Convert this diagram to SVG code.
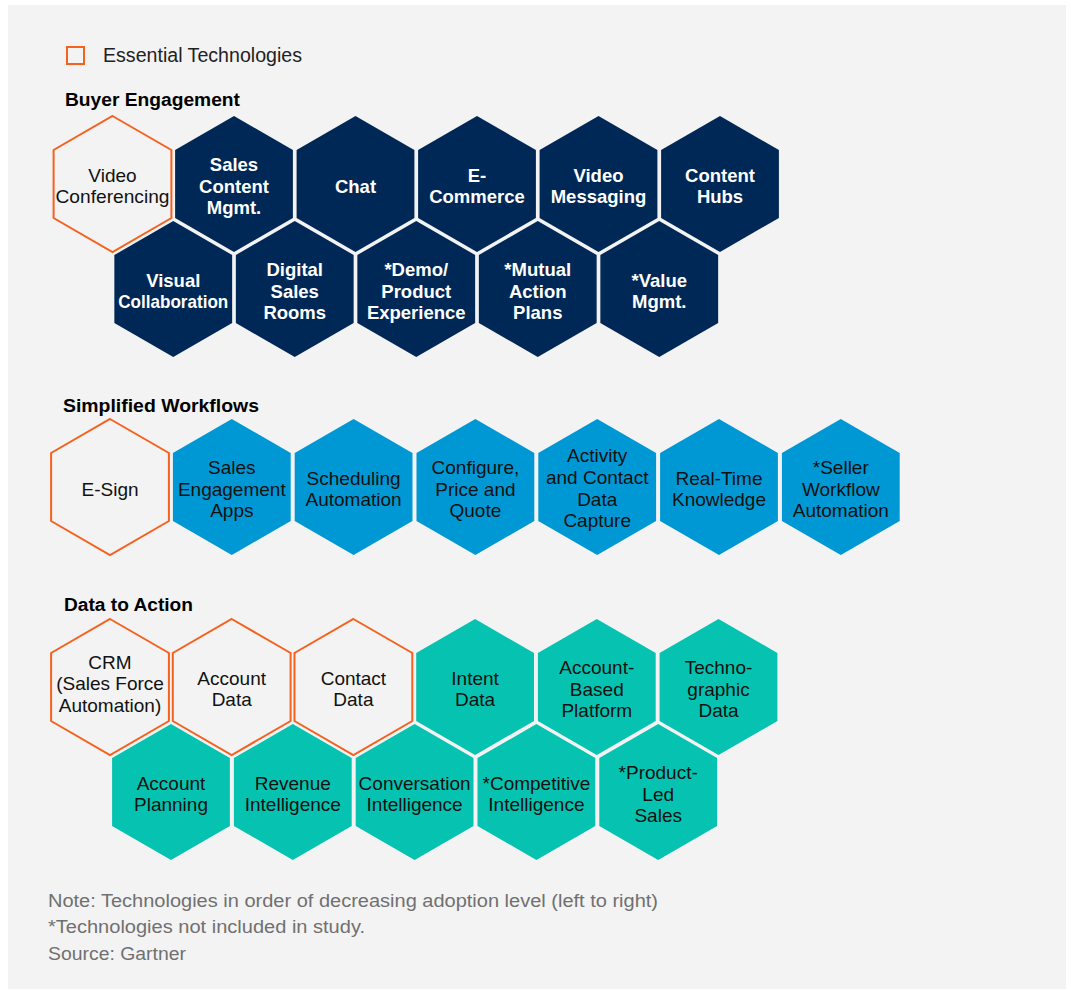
<svg xmlns="http://www.w3.org/2000/svg" xmlns:xlink="http://www.w3.org/1999/xlink" width="1071" height="991" viewBox="0 0 1071 991">
<style>
.hex-navy{fill:#002856}
.hex-blue{fill:#0098d4}
.hex-teal{fill:#06c2b0}
.hex-ess{fill:#f3f3f3;stroke:#f5621f;stroke-width:2}
.tw{font-family:"Liberation Sans",Arial,sans-serif;font-size:18.5px;font-weight:bold;fill:#ffffff;text-anchor:middle}
.tb{font-family:"Liberation Sans",Arial,sans-serif;font-size:19px;fill:#111111;text-anchor:middle}
.head{font-family:"Liberation Sans",Arial,sans-serif;font-size:17.5px;font-weight:bold;fill:#000000}
.legend{font-family:"Liberation Sans",Arial,sans-serif;font-size:19.5px;fill:#222222}
.note{font-family:"Liberation Sans",Arial,sans-serif;font-size:17.5px;fill:#707070}
</style>
<defs>
<path id="hex" d="M0,-68 L58.9,-34 L58.9,34 L0,68 L-58.9,34 L-58.9,-34 Z"/>
</defs>
<rect x="0" y="0" width="1071" height="991" fill="#ffffff"/>
<rect x="8" y="5" width="1058" height="984" fill="#f3f3f3"/>

<g id="legend">
<rect x="67" y="47" width="17" height="17" fill="none" stroke="#f5621f" stroke-width="2"/>
<text class="legend" x="103" y="62" textLength="199" lengthAdjust="spacingAndGlyphs">Essential Technologies</text>
</g>

<g id="headings">
<text class="head" x="65" y="106" textLength="175" lengthAdjust="spacingAndGlyphs">Buyer Engagement</text>
<text class="head" x="63" y="412" textLength="196" lengthAdjust="spacingAndGlyphs">Simplified Workflows</text>
<text class="head" x="64" y="611" textLength="129" lengthAdjust="spacingAndGlyphs">Data to Action</text>
</g>

<g id="connectors"></g>

<!-- Buyer Engagement row 1 (cy=184) -->
<g id="video-conferencing"><use href="#hex" class="hex-ess" transform="translate(112.5,184)"/>
<text class="tb"><tspan x="112.5" y="181.7">Video</tspan><tspan x="112.5" y="203.4" textLength="114" lengthAdjust="spacingAndGlyphs">Conferencing</tspan></text></g>
<g id="sales-content-mgmt"><use href="#hex" class="hex-navy" transform="translate(234,184)"/>
<text class="tw"><tspan x="234" y="170.8">Sales</tspan><tspan x="234" y="192.5">Content</tspan><tspan x="234" y="214.2">Mgmt.</tspan></text></g>
<g id="chat"><use href="#hex" class="hex-navy" transform="translate(355.5,184)"/>
<text class="tw" x="355.5" y="192.5">Chat</text></g>
<g id="e-commerce"><use href="#hex" class="hex-navy" transform="translate(477,184)"/>
<text class="tw"><tspan x="477" y="181.7">E-</tspan><tspan x="477" y="203.4">Commerce</tspan></text></g>
<g id="video-messaging"><use href="#hex" class="hex-navy" transform="translate(598.5,184)"/>
<text class="tw"><tspan x="598.5" y="181.7">Video</tspan><tspan x="598.5" y="203.4">Messaging</tspan></text></g>
<g id="content-hubs"><use href="#hex" class="hex-navy" transform="translate(720,184)"/>
<text class="tw"><tspan x="720" y="181.7">Content</tspan><tspan x="720" y="203.4">Hubs</tspan></text></g>

<!-- Buyer Engagement row 2 (cy=289) -->
<g id="visual-collaboration"><use href="#hex" class="hex-navy" transform="translate(173.25,289)"/>
<text class="tw"><tspan x="173.25" y="286.7">Visual</tspan><tspan x="173.25" y="308.4" textLength="110" lengthAdjust="spacingAndGlyphs">Collaboration</tspan></text></g>
<g id="digital-sales-rooms"><use href="#hex" class="hex-navy" transform="translate(294.75,289)"/>
<text class="tw"><tspan x="294.75" y="275.8">Digital</tspan><tspan x="294.75" y="297.5">Sales</tspan><tspan x="294.75" y="319.2">Rooms</tspan></text></g>
<g id="demo-product-experience"><use href="#hex" class="hex-navy" transform="translate(416.25,289)"/>
<text class="tw"><tspan x="416.25" y="275.8">*Demo/</tspan><tspan x="416.25" y="297.5">Product</tspan><tspan x="416.25" y="319.2">Experience</tspan></text></g>
<g id="mutual-action-plans"><use href="#hex" class="hex-navy" transform="translate(537.75,289)"/>
<text class="tw"><tspan x="537.75" y="275.8">*Mutual</tspan><tspan x="537.75" y="297.5">Action</tspan><tspan x="537.75" y="319.2">Plans</tspan></text></g>
<g id="value-mgmt"><use href="#hex" class="hex-navy" transform="translate(659.25,289)"/>
<text class="tw"><tspan x="659.25" y="286.7">*Value</tspan><tspan x="659.25" y="308.4">Mgmt.</tspan></text></g>

<!-- Simplified Workflows (cy=487) -->
<g id="e-sign"><use href="#hex" class="hex-ess" transform="translate(110,487)"/>
<text class="tb" x="110" y="495.5">E-Sign</text></g>
<g id="sales-engagement-apps"><use href="#hex" class="hex-blue" transform="translate(231.8,487)"/>
<text class="tb"><tspan x="231.8" y="473.8">Sales</tspan><tspan x="231.8" y="495.5">Engagement</tspan><tspan x="231.8" y="517.2">Apps</tspan></text></g>
<g id="scheduling-automation"><use href="#hex" class="hex-blue" transform="translate(353.6,487)"/>
<text class="tb"><tspan x="353.6" y="484.7">Scheduling</tspan><tspan x="353.6" y="506.4">Automation</tspan></text></g>
<g id="configure-price-quote"><use href="#hex" class="hex-blue" transform="translate(475.4,487)"/>
<text class="tb"><tspan x="475.4" y="473.8">Configure,</tspan><tspan x="475.4" y="495.5">Price and</tspan><tspan x="475.4" y="517.2">Quote</tspan></text></g>
<g id="activity-contact-data-capture"><use href="#hex" class="hex-blue" transform="translate(597.2,487)"/>
<text class="tb"><tspan x="597.2" y="462.2">Activity</tspan><tspan x="597.2" y="483.9">and Contact</tspan><tspan x="597.2" y="505.6">Data</tspan><tspan x="597.2" y="527.3">Capture</tspan></text></g>
<g id="real-time-knowledge"><use href="#hex" class="hex-blue" transform="translate(719,487)"/>
<text class="tb"><tspan x="719" y="484.7">Real-Time</tspan><tspan x="719" y="506.4">Knowledge</tspan></text></g>
<g id="seller-workflow-automation"><use href="#hex" class="hex-blue" transform="translate(840.8,487)"/>
<text class="tb"><tspan x="840.8" y="473.8">*Seller</tspan><tspan x="840.8" y="495.5">Workflow</tspan><tspan x="840.8" y="517.2">Automation</tspan></text></g>

<!-- Data to Action row 1 (cy=687) -->
<g id="crm"><use href="#hex" class="hex-ess" transform="translate(110,687)"/>
<text class="tb"><tspan x="110" y="668.6">CRM</tspan><tspan x="110" y="690.3">(Sales Force</tspan><tspan x="110" y="712">Automation)</tspan></text></g>
<g id="account-data"><use href="#hex" class="hex-ess" transform="translate(231.7,687)"/>
<text class="tb"><tspan x="231.7" y="684.7">Account</tspan><tspan x="231.7" y="706.4">Data</tspan></text></g>
<g id="contact-data"><use href="#hex" class="hex-ess" transform="translate(353.4,687)"/>
<text class="tb"><tspan x="353.4" y="684.7">Contact</tspan><tspan x="353.4" y="706.4">Data</tspan></text></g>
<g id="intent-data"><use href="#hex" class="hex-teal" transform="translate(475.1,687)"/>
<text class="tb"><tspan x="475.1" y="684.7">Intent</tspan><tspan x="475.1" y="706.4">Data</tspan></text></g>
<g id="account-based-platform"><use href="#hex" class="hex-teal" transform="translate(596.8,687)"/>
<text class="tb"><tspan x="596.8" y="673.8">Account-</tspan><tspan x="596.8" y="695.5">Based</tspan><tspan x="596.8" y="717.2">Platform</tspan></text></g>
<g id="technographic-data"><use href="#hex" class="hex-teal" transform="translate(718.5,687)"/>
<text class="tb"><tspan x="718.5" y="673.8">Techno-</tspan><tspan x="718.5" y="695.5">graphic</tspan><tspan x="718.5" y="717.2">Data</tspan></text></g>

<!-- Data to Action row 2 (cy=792) -->
<g id="account-planning"><use href="#hex" class="hex-teal" transform="translate(171,792)"/>
<text class="tb"><tspan x="171" y="789.7">Account</tspan><tspan x="171" y="811.4">Planning</tspan></text></g>
<g id="revenue-intelligence"><use href="#hex" class="hex-teal" transform="translate(292.8,792)"/>
<text class="tb"><tspan x="292.8" y="789.7">Revenue</tspan><tspan x="292.8" y="811.4">Intelligence</tspan></text></g>
<g id="conversation-intelligence"><use href="#hex" class="hex-teal" transform="translate(414.6,792)"/>
<text class="tb"><tspan x="414.6" y="789.7">Conversation</tspan><tspan x="414.6" y="811.4">Intelligence</tspan></text></g>
<g id="competitive-intelligence"><use href="#hex" class="hex-teal" transform="translate(536.4,792)"/>
<text class="tb"><tspan x="536.4" y="789.7">*Competitive</tspan><tspan x="536.4" y="811.4">Intelligence</tspan></text></g>
<g id="product-led-sales"><use href="#hex" class="hex-teal" transform="translate(658.2,792)"/>
<text class="tb"><tspan x="658.2" y="778.8">*Product-</tspan><tspan x="658.2" y="800.5">Led</tspan><tspan x="658.2" y="822.2">Sales</tspan></text></g>

<g id="notes">
<text class="note" x="48" y="907" textLength="610" lengthAdjust="spacingAndGlyphs">Note: Technologies in order of decreasing adoption level (left to right)</text>
<text class="note" x="48" y="933" textLength="317" lengthAdjust="spacingAndGlyphs">*Technologies not included in study.</text>
<text class="note" x="48" y="960" textLength="138" lengthAdjust="spacingAndGlyphs">Source: Gartner</text>
</g>
</svg>
